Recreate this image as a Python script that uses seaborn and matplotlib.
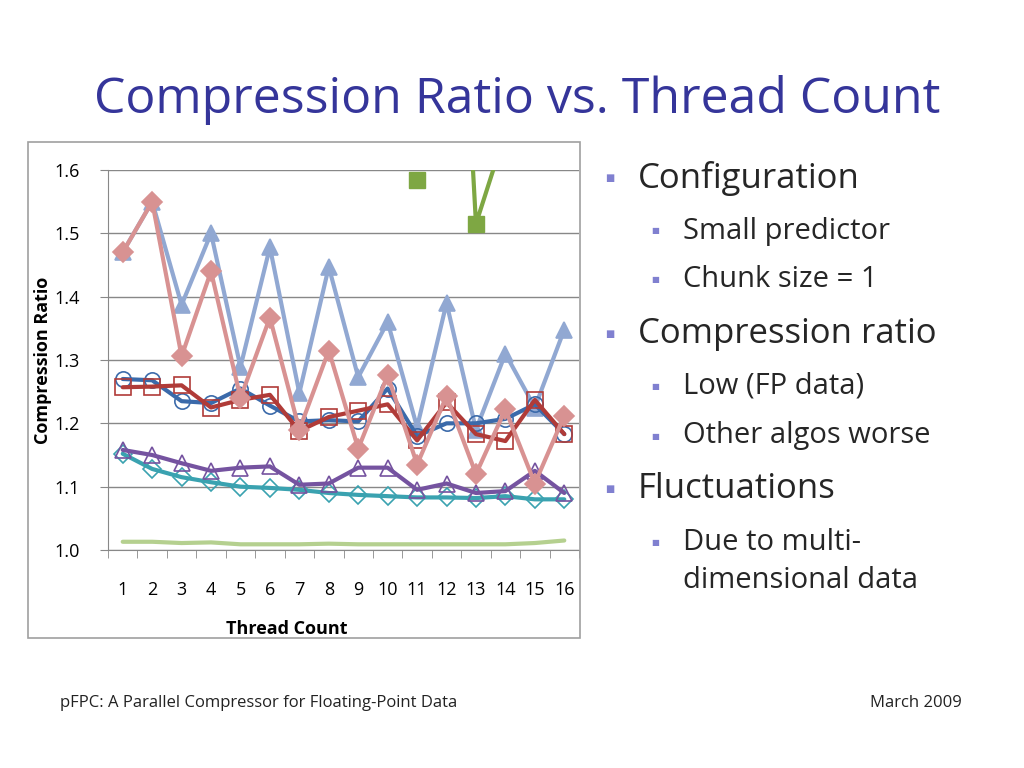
import numpy as np
import pandas as pd
import seaborn as sns
import matplotlib
matplotlib.use("Agg")
import matplotlib.pyplot as plt
from matplotlib.patches import Rectangle

threads = list(range(1, 17))
s_lightblue = [1.47,1.55,1.387,1.50,1.289,1.478,1.248,1.447,1.273,1.36,1.194,1.39,1.19,1.31,1.225,1.348]
s_pink = [1.47,1.55,1.306,1.44,1.24,1.367,1.19,1.315,1.16,1.276,1.135,1.243,1.12,1.222,1.105,1.212]
s_blue = [1.27,1.268,1.235,1.232,1.255,1.228,1.203,1.205,1.203,1.255,1.18,1.2,1.2,1.207,1.23,1.183]
s_red = [1.257,1.258,1.26,1.225,1.237,1.245,1.188,1.21,1.22,1.23,1.173,1.233,1.183,1.172,1.237,1.183]
s_purple = [1.158,1.15,1.137,1.125,1.13,1.132,1.103,1.105,1.13,1.13,1.095,1.105,1.09,1.093,1.125,1.09]
s_teal = [1.152,1.128,1.115,1.107,1.1,1.098,1.095,1.09,1.087,1.085,1.083,1.083,1.082,1.085,1.08,1.08]
s_lightgreen = [1.013,1.013,1.011,1.012,1.009,1.009,1.009,1.01,1.009,1.009,1.009,1.009,1.009,1.009,1.011,1.015]
s_green = [np.nan]*10 + [1.584, 2.36, 1.515, 1.66, np.nan, np.nan]
yticks = [1.0, 1.1, 1.2, 1.3, 1.4, 1.5, 1.6]

fig = plt.figure(figsize=(10.24, 7.68), dpi=100)
fig.patch.set_facecolor("white")
fig.text(517/1024, 0.87, "Compression Ratio vs. Thread Count", ha="center", va="center",
         fontsize=36, color="#35359a", family="Open Sans")
fig.patches.append(Rectangle((28/1024, 1-638/768), 552/1024, 496/768, transform=fig.transFigure,
                             fill=False, edgecolor="#a0a0a0", lw=1.2))
ax = fig.add_axes([108/1024, 1-550/768, 471/1024, 380/768])
sns.set_style("white")

def draw(vals, color, marker, filled, ms, lw=3):
    df = pd.DataFrame({"t": threads, "v": vals})
    sns.lineplot(data=df, x="t", y="v", ax=ax, color=color, lw=lw, marker=None)
    ax.plot(threads, vals, ls="none", marker=marker, ms=ms,
            mfc=color if filled else "none", mec=color, mew=1.2, clip_on=False)

ax.plot(threads, s_lightgreen, color="#b5d08f", lw=3)
draw(s_teal, "#3aa2b0", "D", False, 9)
draw(s_purple, "#7553a0", "^", False, 11)
draw(s_lightblue, "#91a8d2", "^", True, 12)
draw(s_blue, "#3b6aaa", "o", False, 11)
draw(s_red, "#b03b38", "s", False, 12)
draw(s_pink, "#d89292", "D", True, 10)
gdf = pd.DataFrame({"t": threads[11:14], "v": s_green[11:14]})
sns.lineplot(data=gdf, x="t", y="v", ax=ax, color="#7ea743", lw=3)
ax.plot(threads, s_green, ls="none", marker="s", ms=12, color="#7ea743", clip_on=True)

ax.set_xlim(0.5, 16.5)
ax.set_ylim(1.0, 1.6)
ax.set_yticks(yticks)
ax.set_yticklabels([f"{v:.1f}" for v in yticks], fontsize=13, family="Open Sans")
ax.set_xticks(threads)
ax.set_xticklabels([str(t) for t in threads], fontsize=13, family="Open Sans")
ax.set_xticks(np.arange(0.5, 17, 1), minor=True)
ax.tick_params(axis="x", which="minor", length=6, color="#888888")
ax.tick_params(axis="x", which="major", length=0, pad=22)
ax.tick_params(axis="y", length=6, color="#888888", pad=14)
ax.grid(axis="y", color="#888888", lw=1)
for s in ["top", "right"]:
    ax.spines[s].set_visible(False)
ax.spines["left"].set_color("#888888")
ax.spines["bottom"].set_color("#888888")
ax.set_xlabel("Thread Count", fontsize=13, fontweight="bold", family="Open Sans")
ax.xaxis.set_label_coords((287-108)/471, -(620-550)/380)
ax.set_ylabel("Compression Ratio", fontsize=13, fontweight="bold", family="Open Sans", labelpad=2)

bullets = [
    (610, 178, "Configuration", 25, 0), (655, 231, "Small predictor", 21, 1),
    (655, 280, "Chunk size = 1", 21, 1), (610, 334, "Compression ratio", 25, 0),
    (655, 386, "Low (FP data)", 21, 1), (655, 436, "Other algos worse", 21, 1),
    (610, 489, "Fluctuations", 25, 0), (655, 543, "Due to multi-", 21, 1),
]
for x, y, t, fs, lvl in bullets:
    sz = 7 if lvl == 0 else 6
    fig.text(x/1024, 1-y/768, "■", fontsize=sz, color="#8080d0", ha="center", va="center")
    fig.text((x+28)/1024, 1-y/768, t, fontsize=fs, ha="left", va="center", family="Open Sans")
fig.text(683/1024, 1-581/768, "dimensional data", fontsize=21, ha="left", va="center", family="Open Sans")
fig.text(60/1024, 1-703/768, "pFPC: A Parallel Compressor for Floating-Point Data", fontsize=12,
         ha="left", va="center", family="Open Sans", color="#222222")
fig.text(962/1024, 1-703/768, "March 2009", fontsize=12, ha="right", va="center",
         family="Open Sans", color="#222222")
fig.savefig("out.png", dpi=100)
